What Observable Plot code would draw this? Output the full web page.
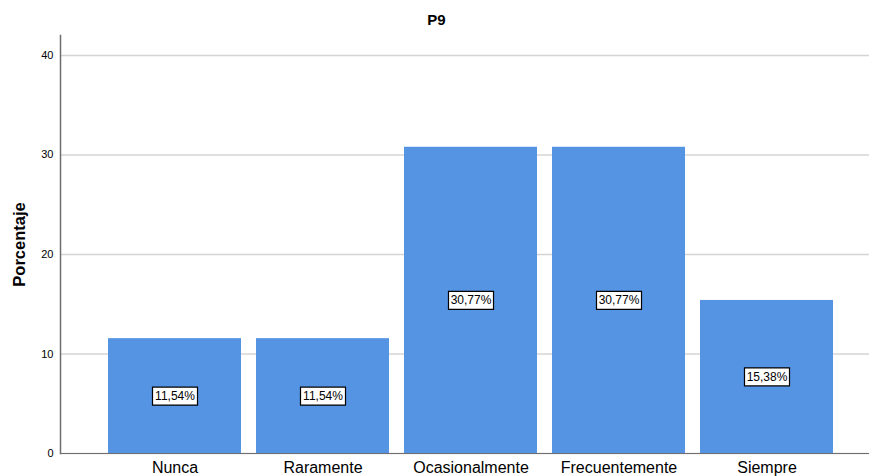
<!DOCTYPE html>
<html>
<head>
<meta charset="utf-8">
<script src="https://cdn.jsdelivr.net/npm/d3@7"></script>
<script src="https://cdn.jsdelivr.net/npm/@observablehq/plot@0.6"></script>
<style>
  html, body { margin: 0; padding: 0; background: #fff; }
  #title { width: 869px; height: 30px; box-sizing: border-box; padding-top: 13px; padding-left: 4px; text-align: center;
           font: bold 15px "Liberation Sans", Arial, sans-serif; line-height: 14px; color: #000; }
  #chart { width: 869px; height: 446px; overflow: hidden; }
</style>
</head>
<body>
<div id="title">P9</div>
<div id="chart"></div>
<script>
const categories = ["Nunca", "Raramente", "Ocasionalmente", "Frecuentemente", "Siempre"];
const percentages = [11.54, 11.54, 30.77, 30.77, 15.38];
const yTicks = [0, 10, 20, 30, 40];

const data = categories.map((c, i) => ({ cat: c, value: percentages[i] }));
const fmt = v => v.toFixed(2).replace(".", ",") + "%";
const boxSymbol = { draw(ctx) { ctx.rect(-22.5, -9, 45, 18); } };

const chart = Plot.plot({
  width: 869,
  height: 446,
  marginLeft: 60,
  marginRight: 0,
  marginTop: 5,
  marginBottom: 23,
  style: { fontFamily: "'Liberation Sans', Arial, sans-serif", background: "#fff", color: "#000", overflow: "visible" },
  x: { domain: categories, paddingInner: 0.1014, paddingOuter: 0.2838, align: 0.571, label: null },
  y: { domain: [0, 42], label: null },
  marks: [
    Plot.gridY(yTicks, { stroke: "#d4d4d4", strokeOpacity: 1, strokeWidth: 1.5 }),
    Plot.barY(data, { x: "cat", y: "value", fill: "#5593e3" }),
    Plot.ruleY([0], { stroke: "#6e6e6e", strokeWidth: 1.2 }),
    Plot.frame({ anchor: "left", stroke: "#6e6e6e", strokeWidth: 1.5 }),
    Plot.axisY(yTicks, { tickSize: 0, tickPadding: 7, fontSize: 11, label: null }),
    Plot.axisX({ tickSize: 0, tickPadding: 8, fontSize: 16, label: null }),
    Plot.text(["Porcentaje"], { frameAnchor: "left", textAnchor: "middle", dx: -41, rotate: -90, fontSize: 16.5, fontWeight: "bold" }),
    Plot.dot(data, { x: "cat", y: d => d.value / 2, symbol: boxSymbol, fill: "#fff", stroke: "#000", strokeWidth: 1.2 }),
    Plot.text(data, { x: "cat", y: d => d.value / 2, text: d => fmt(d.value), fontSize: 12, fill: "#000" })
  ]
});
document.getElementById("chart").appendChild(chart);
</script>
</body>
</html>
